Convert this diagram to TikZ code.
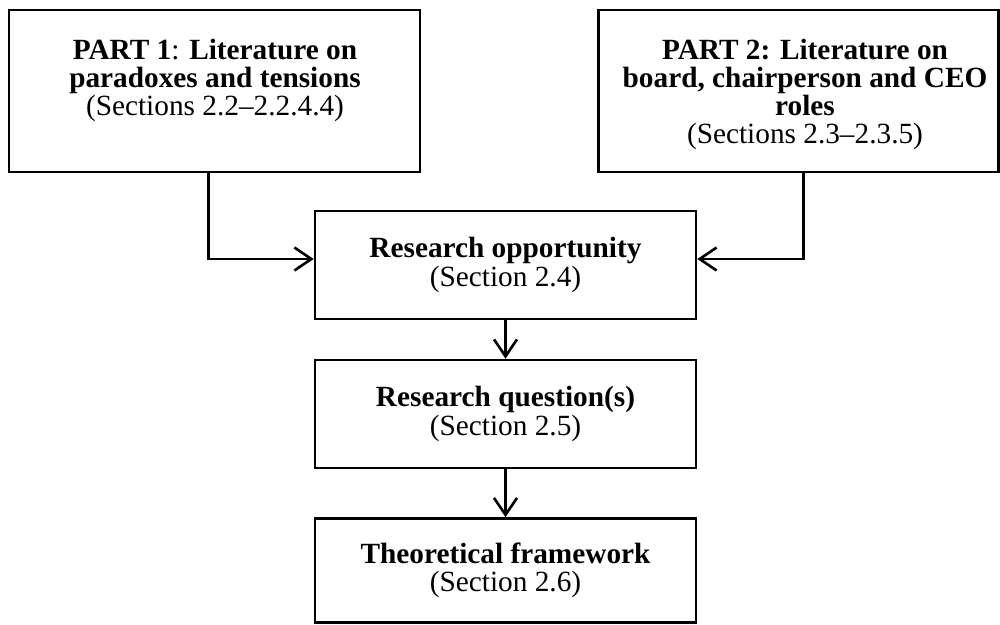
\documentclass[tikz,border=0pt]{standalone}
\usepackage{fontspec}
\setmainfont{Liberation Serif}
\usetikzlibrary{arrows.meta}
\begin{document}
\begin{tikzpicture}[x=1pt,y=-1pt,
  box/.style={draw, line width=2.6pt, inner sep=0pt, align=center, font=\fontsize{29.3}{28.3}\selectfont},
  lbl/.style={inner sep=0pt, align=center, font=\fontsize{29.3}{28.3}\selectfont, anchor=north},
  arr/.style={line width=2.6pt, -{Straight Barb[length=17pt,width=23pt]}}]
\useasboundingbox (0,0) rectangle (1000,624);
\clip (0,0) rectangle (1000,624);
\node[box, minimum width=411pt, minimum height=162pt] (p1) at (214.5,91) {};
\node[lbl] (t1) at (215,38.5) {\textbf{PART 1}: \textbf{Literature on}\\\textbf{paradoxes and tensions}\\(Sections 2.2–2.2.4.4)};
\node[box, minimum width=400pt, minimum height=162pt] (p2) at (798.5,91) {};
\node[lbl] (t2) at (805,38.5) {\textbf{PART 2: Literature on}\\\textbf{board, chairperson and CEO}\\\textbf{roles}\\(Sections 2.3–2.3.5)};
\node[box, minimum width=381pt, minimum height=108pt] (ro) at (505.5,265) {\textbf{Research opportunity}\\(Section 2.4)};
\node[box, minimum width=381pt, minimum height=108pt] (rq) at (505.5,414) {\textbf{Research question(s)}\\(Section 2.5)};
\node[box, minimum width=381pt, minimum height=104pt] (tf) at (505.5,570.5) {\textbf{Theoretical framework}\\(Section 2.6)};
\draw[arr] ([xshift=-6pt]p1.south) |- ([yshift=6pt]ro.west);
\draw[arr] ([xshift=5pt]p2.south) |- ([yshift=6pt]ro.east);
\draw[arr] (ro.south) -- (rq.north);
\draw[arr] (rq.south) -- (tf.north);
\end{tikzpicture}
\end{document}
